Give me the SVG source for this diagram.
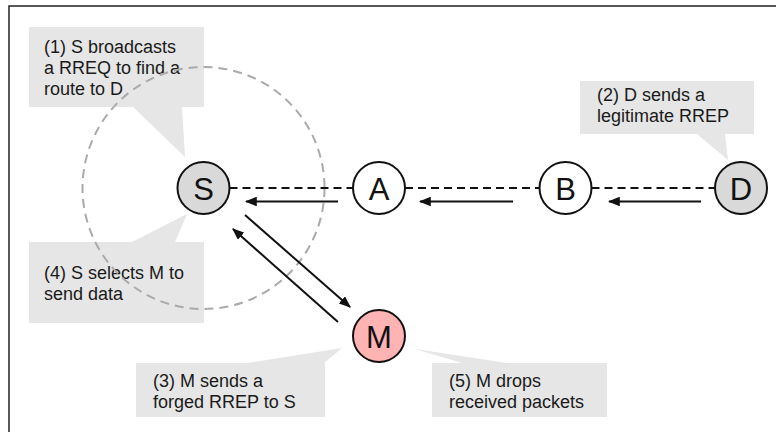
<svg xmlns="http://www.w3.org/2000/svg" width="776" height="432" viewBox="0 0 776 432">
<defs>
<style>
.frame{fill:none;stroke:#222;stroke-width:1.5}
.callout{fill:#e6e6e6;stroke:none}
.ct{font-family:"Liberation Sans",Arial,sans-serif;font-size:18px;fill:#1a1a1a}
.node circle{stroke:#111;stroke-width:2}
.nl{font-family:"Liberation Sans",Arial,sans-serif;font-size:31px;fill:#111;text-anchor:middle;dominant-baseline:central}
.link{stroke:#111;stroke-width:2;stroke-dasharray:8,5;fill:none}
.arr{stroke:#111;stroke-width:2;fill:none;marker-end:url(#ah)}
.range{fill:none;stroke:#aaa;stroke-width:2;stroke-dasharray:9,6}
</style>
<marker id="ah" viewBox="0 0 10 8" refX="9" refY="4" markerWidth="6" markerHeight="4.8" markerUnits="strokeWidth" orient="auto">
<path d="M0,0 L10,4 L0,8 z" fill="#111"/>
</marker>
</defs>
<rect class="frame" x="9" y="6" width="800" height="460"/>

<g id="callout1">
<polygon class="callout" points="29,27 204,27 204,107 182,107 185,157 133,107 29,107"/>
<text class="ct" x="44" y="53">(1) S broadcasts</text>
<text class="ct" x="44" y="74">a RREQ to find a</text>
<text class="ct" x="44" y="95">route to D</text>
</g>
<g id="callout2">
<polygon class="callout" points="580,81 754,81 754,134 725,134 728,160 697,134 580,134"/>
<text class="ct" x="597" y="101">(2) D sends a</text>
<text class="ct" x="597" y="122">legitimate RREP</text>
</g>
<g id="callout4">
<polygon class="callout" points="29,242 132,242 187,214 175,242 204,242 204,323 29,323"/>
<text class="ct" x="44" y="279">(4) S selects M to</text>
<text class="ct" x="44" y="300">send data</text>
</g>
<g id="callout3">
<polygon class="callout" points="136,363 247,363 342,348 324,363 325,363 325,417 136,417"/>
<text class="ct" x="153" y="387">(3) M sends a</text>
<text class="ct" x="153" y="408">forged RREP to S</text>
</g>
<g id="callout5">
<polygon class="callout" points="432,363 462,363 415,349 507,363 607,363 607,417 432,417"/>
<text class="ct" x="449" y="387">(5) M drops</text>
<text class="ct" x="449" y="408">received packets</text>
</g>

<circle id="range" class="range" cx="203.5" cy="188" r="121"/>

<g id="connectors">
<line class="link" x1="229.5" y1="188" x2="353" y2="188"/>
<line class="link" x1="405" y1="188" x2="539.5" y2="188"/>
<line class="link" x1="591.5" y1="188" x2="715" y2="188"/>
<line class="arr" x1="338" y1="201.5" x2="246" y2="201.5"/>
<line class="arr" x1="513" y1="201.5" x2="420" y2="201.5"/>
<line class="arr" x1="701" y1="201.5" x2="609" y2="201.5"/>
<line class="arr" x1="245" y1="215" x2="350" y2="307"/>
<line class="arr" x1="338" y1="322" x2="233" y2="229"/>
</g>

<g id="S" class="node"><circle cx="203.5" cy="188" r="26" fill="#d9d9d9"/><text class="nl" x="203.5" y="189">S</text></g>
<g id="A" class="node"><circle cx="379" cy="188" r="26" fill="#fff"/><text class="nl" x="379" y="189">A</text></g>
<g id="B" class="node"><circle cx="565.5" cy="188" r="26" fill="#fff"/><text class="nl" x="565.5" y="189">B</text></g>
<g id="D" class="node"><circle cx="741" cy="188" r="26" fill="#d9d9d9"/><text class="nl" x="741" y="189">D</text></g>
<g id="M" class="node"><circle cx="379" cy="336" r="26" fill="#ffb3b3"/><text class="nl" x="379" y="337">M</text></g>
</svg>
